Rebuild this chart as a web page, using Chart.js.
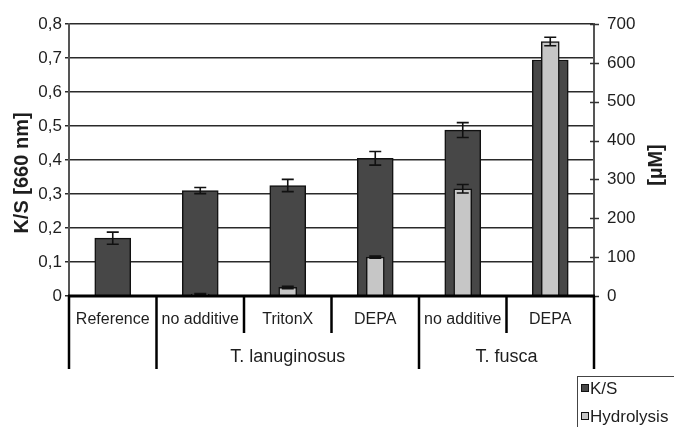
<!DOCTYPE html>
<html>
<head>
<meta charset="utf-8">
<script src="https://cdn.jsdelivr.net/npm/chart.js@4/dist/chart.umd.min.js"></script>
<style>
  html, body { margin: 0; padding: 0; background: #fff; }
  #wrap { width: 674px; height: 427px; }
</style>
</head>
<body>
<div id="wrap"><canvas id="c" width="674" height="427"></canvas></div>
<script>
// Categories along the x axis and the organism groups they belong to
const categories = ['Reference', 'no additive', 'TritonX', 'DEPA', 'no additive', 'DEPA'];
const groupLabels = ['', 'T. lanuginosus', 'T. fusca'];
const groupSpans = [1, 3, 2];

// K/S at 660 nm (left axis) with error bars
const ksValues = [0.17, 0.31, 0.325, 0.405, 0.488, 0.694];
const ksErrors = [0.018, 0.009, 0.018, 0.02, 0.022, 0.02];

// Hydrolysis in µM (right axis) with error bars
const hydValues = [null, 5, 22, 100, 276, 655];
const hydErrors = [0, 1.5, 3, 2.5, 11, 11];

// Tick labels
const leftTickLabels = ['0', '0,1', '0,2', '0,3', '0,4', '0,5', '0,6', '0,7', '0,8'];
const rightTickLabels = ['0', '100', '200', '300', '400', '500', '600', '700'];

const FONT = "'Liberation Sans', Arial, sans-serif";
const TEXT = '#1e1e1e';

const errorBars = {
  id: 'errorBars',
  afterDatasetDraw(chart, args) {
    const errs = args.index === 0 ? ksErrors : hydErrors;
    const vals = args.index === 0 ? ksValues : hydValues;
    const ds = chart.data.datasets[args.index];
    const scale = chart.scales[ds.yAxisID];
    const ctx = chart.ctx;
    ctx.save();
    ctx.strokeStyle = '#111';
    ctx.lineWidth = 1.6;
    args.meta.data.forEach((bar, i) => {
      if (vals[i] == null || !errs[i]) return;
      const x = bar.x;
      const yTop = scale.getPixelForValue(vals[i] + errs[i]);
      const yBot = scale.getPixelForValue(vals[i] - errs[i]);
      ctx.beginPath();
      ctx.moveTo(x, yTop); ctx.lineTo(x, yBot);
      ctx.moveTo(x - 6, yTop); ctx.lineTo(x + 6, yTop);
      ctx.moveTo(x - 6, yBot); ctx.lineTo(x + 6, yBot);
      ctx.stroke();
    });
    ctx.restore();
  }
};

const decorations = {
  id: 'decorations',
  afterDraw(chart) {
    const ctx = chart.ctx;
    const area = chart.chartArea;
    const yL = chart.scales.y;
    const yR = chart.scales.y1;
    const catW = (area.right - area.left) / categories.length;
    const y0 = yL.getPixelForValue(0);
    ctx.save();

    // cross ticks on the right axis
    ctx.strokeStyle = '#333';
    ctx.lineWidth = 1.5;
    yR.ticks.forEach(t => {
      const y = Math.round(yR.getPixelForValue(t.value)) + 0.5;
      ctx.beginPath();
      ctx.moveTo(area.right - 4, y); ctx.lineTo(area.right + 5, y);
      ctx.stroke();
    });

    // baseline
    ctx.strokeStyle = '#000';
    ctx.lineWidth = 3;
    ctx.beginPath();
    ctx.moveTo(area.left - 1, y0); ctx.lineTo(area.right + 1, y0);
    ctx.stroke();

    // category table below the axis
    const groupEdges = [0];
    groupSpans.forEach(s => groupEdges.push(groupEdges[groupEdges.length - 1] + s));
    ctx.lineWidth = 2.5;
    for (let k = 0; k <= categories.length; k++) {
      const x = area.left + k * catW;
      const long = groupEdges.includes(k);
      ctx.beginPath();
      ctx.moveTo(x, y0);
      ctx.lineTo(x, long ? 369 : 333);
      ctx.stroke();
    }
    ctx.fillStyle = TEXT;
    ctx.textAlign = 'center';
    ctx.textBaseline = 'middle';
    ctx.font = '16px ' + FONT;
    categories.forEach((c, i) => {
      ctx.fillText(c, area.left + (i + 0.5) * catW, 320);
    });
    ctx.font = '18px ' + FONT;
    groupLabels.forEach((g, gi) => {
      if (!g) return;
      const xc = area.left + (groupEdges[gi] + groupSpans[gi] / 2) * catW;
      ctx.fillText(g, xc, 357);
    });

    // axis titles
    ctx.font = 'bold 20px ' + FONT;
    ctx.save();
    ctx.translate(22, 173);
    ctx.rotate(-Math.PI / 2);
    ctx.fillText('K/S [660 nm]', 0, 0);
    ctx.restore();
    ctx.save();
    ctx.translate(656, 165);
    ctx.rotate(-Math.PI / 2);
    ctx.fillText('[µM]', 0, 0);
    ctx.restore();

    // legend
    ctx.strokeStyle = '#444';
    ctx.lineWidth = 1;
    ctx.strokeRect(577.5, 376.5, 200, 100);
    const items = chart.data.datasets.map(d => ({ label: d.label, color: d.backgroundColor }));
    items.forEach((it, i) => {
      const cy = 388 + i * 28;
      ctx.fillStyle = it.color;
      ctx.fillRect(581.5, cy - 3.5, 7, 7);
      ctx.strokeStyle = '#111';
      ctx.strokeRect(581.5, cy - 3.5, 7, 7);
      ctx.fillStyle = TEXT;
      ctx.textAlign = 'left';
      ctx.font = '17px ' + FONT;
      ctx.fillText(it.label, 590, cy + 1);
    });
    ctx.restore();
  }
};

new Chart(document.getElementById('c'), {
  type: 'bar',
  data: {
    labels: categories,
    datasets: [
      {
        label: 'K/S', data: ksValues, yAxisID: 'y',
        backgroundColor: '#474747', borderColor: '#111', borderWidth: 1.5,
        barThickness: 36, grouped: false, order: 2
      },
      {
        label: 'Hydrolysis', data: hydValues, yAxisID: 'y1',
        backgroundColor: '#c6c6c6', borderColor: '#111', borderWidth: 1.5,
        barThickness: 18, grouped: false, order: 1
      }
    ]
  },
  options: {
    responsive: false,
    animation: false,
    devicePixelRatio: 1,
    layout: { padding: { top: 24, bottom: 131, left: 0, right: 0 } },
    plugins: { legend: { display: false }, tooltip: { enabled: false } },
    scales: {
      x: { display: false },
      y: {
        position: 'left', min: 0, max: 0.8,
        afterFit: s => { s.width = 69; },
        ticks: {
          stepSize: 0.1, padding: 3, color: TEXT,
          font: { family: FONT, size: 17 },
          callback: (v, i) => leftTickLabels[i]
        },
        grid: { color: '#2a2a2a', lineWidth: 1.5, tickLength: 4, drawTicks: true },
        border: { color: '#555', width: 2 }
      },
      y1: {
        position: 'right', min: 0, max: 700,
        afterFit: s => { s.width = 80; },
        ticks: {
          stepSize: 100, padding: 13, color: TEXT,
          font: { family: FONT, size: 17 },
          callback: (v, i) => rightTickLabels[i]
        },
        grid: { drawOnChartArea: false, drawTicks: false },
        border: { color: '#555', width: 2 }
      }
    }
  },
  plugins: [errorBars, decorations]
});
</script>
</body>
</html>
